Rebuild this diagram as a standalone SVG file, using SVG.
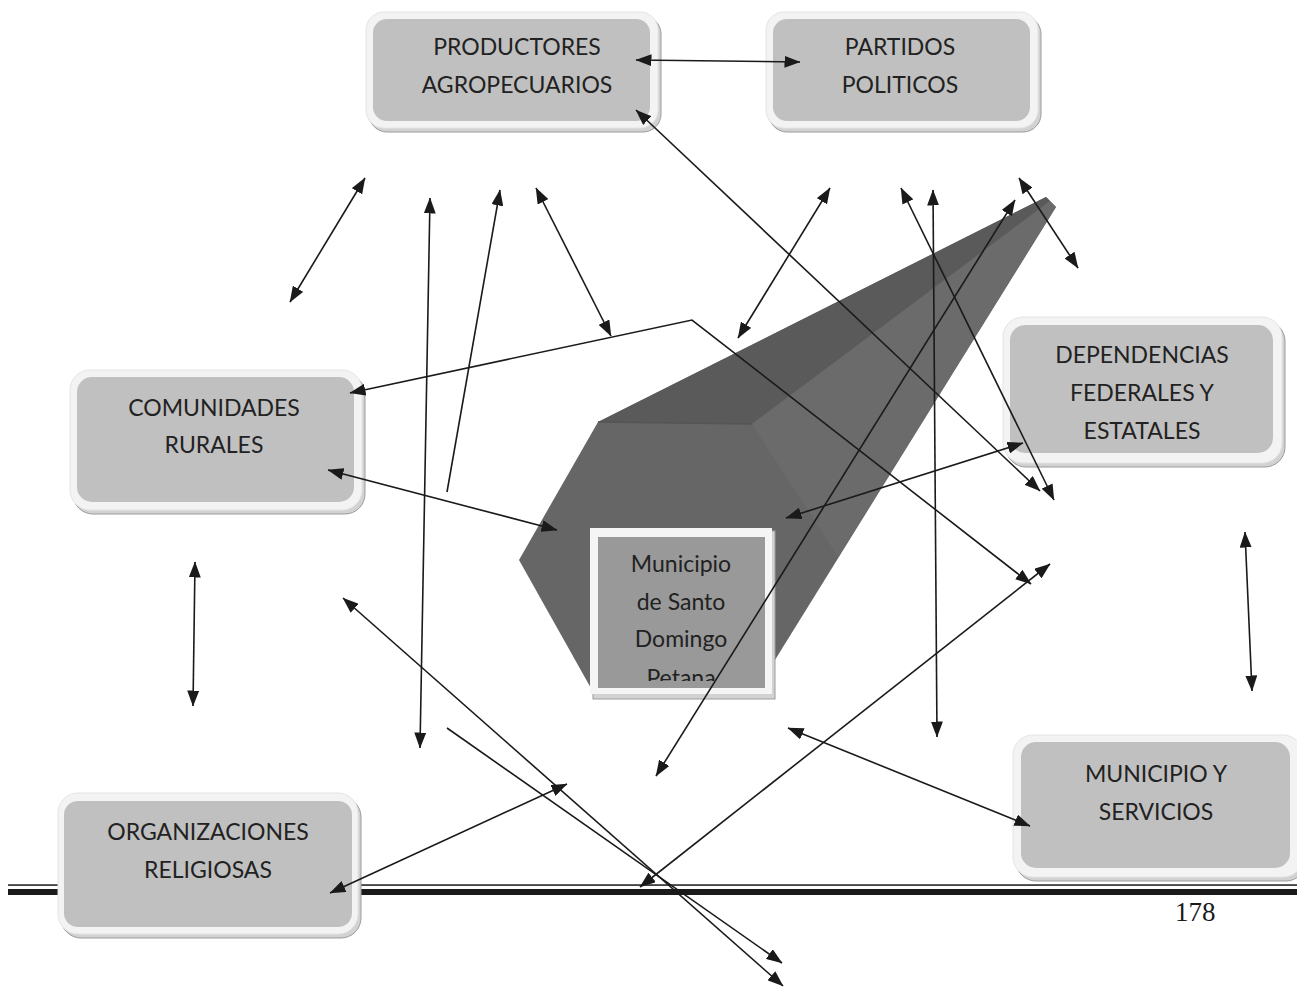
<svg xmlns="http://www.w3.org/2000/svg" width="1297" height="988" viewBox="0 0 1297 988">
<style>
.sh{fill:#d2d2d2;stroke:#9c9c9c;stroke-width:1}
.ou{fill:#f3f3f3;stroke:#e4e4e4;stroke-width:1}
.in{fill:#c0c0c0}
.t{font-family:Lato,"Liberation Sans",sans-serif;font-size:23px;fill:#222222;text-anchor:middle}
.c{fill:none;stroke:#1a1a1a;stroke-width:1.6;marker-end:url(#a)}
.b{marker-start:url(#a)}
</style>
<defs>
<marker id="a" viewBox="0 0 16 12" refX="15.5" refY="6" markerWidth="16" markerHeight="12" markerUnits="userSpaceOnUse" orient="auto-start-reverse">
<path d="M0,0 L16,6 L0,12 z" fill="#1a1a1a"/>
</marker>
<clipPath id="cc"><rect x="598" y="537" width="167" height="144"/></clipPath>
</defs>
<rect width="1297" height="988" fill="#ffffff"/>

<g id="rule">
<rect x="8" y="884.3" width="1289" height="1.5" fill="#1a1a1a"/>
<rect x="8" y="889" width="1289" height="6" fill="#1a1a1a"/>
</g>

<g id="prism">
<polygon points="519,560 598,422 1046,197 1056,207 770,668 592,690" fill="#666666"/>
<polygon points="598,422 1046,197 1050,201 752,424" fill="#5a5a5a"/>
<polygon points="752,424 1050,201 1056,207 838,557" fill="#6b6b6b"/>
<line x1="598" y1="422" x2="752" y2="424" stroke="#555" stroke-width="1.5"/>
</g>

<g id="n-centro">
<rect class="sh" x="593" y="531" width="182" height="168"/>
<rect x="590" y="528" width="182" height="166" fill="#f5f5f5"/>
<rect x="598" y="537" width="167" height="151" fill="#999999"/>
<g clip-path="url(#cc)">
<text class="t" x="681" y="572">Municipio</text>
<text class="t" x="681" y="610">de Santo</text>
<text class="t" x="681" y="647">Domingo</text>
<text class="t" x="681" y="686">Petana</text>
</g>
</g>

<g id="n-productores">
<rect class="sh" x="369" y="16" width="292" height="116" rx="18"/>
<rect class="ou" x="366" y="12" width="292" height="116" rx="18"/>
<rect class="in" x="373" y="19" width="277" height="102" rx="14"/>
<text class="t" x="517" y="55">PRODUCTORES</text>
<text class="t" x="517" y="93">AGROPECUARIOS</text>
</g>

<g id="n-partidos">
<rect class="sh" x="769" y="16" width="272" height="116" rx="18"/>
<rect class="ou" x="766" y="12" width="272" height="116" rx="18"/>
<rect class="in" x="773" y="19" width="257" height="102" rx="14"/>
<text class="t" x="900" y="55">PARTIDOS</text>
<text class="t" x="900" y="93">POLITICOS</text>
</g>

<g id="n-comunidades">
<rect class="sh" x="73" y="374" width="292" height="140" rx="20"/>
<rect class="ou" x="70" y="370" width="292" height="140" rx="20"/>
<rect class="in" x="77" y="377" width="277" height="125" rx="15"/>
<text class="t" x="214" y="416">COMUNIDADES</text>
<text class="t" x="214" y="453">RURALES</text>
</g>

<g id="n-dependencias">
<rect class="sh" x="1006" y="321" width="279" height="146" rx="20"/>
<rect class="ou" x="1003" y="317" width="279" height="146" rx="20"/>
<rect class="in" x="1010" y="325" width="263" height="128" rx="15"/>
<text class="t" x="1142" y="363">DEPENDENCIAS</text>
<text class="t" x="1142" y="401">FEDERALES Y</text>
<text class="t" x="1142" y="439">ESTATALES</text>
</g>

<g id="n-municipio">
<rect class="sh" x="1016" y="739" width="290" height="142" rx="20"/>
<rect class="ou" x="1013" y="735" width="290" height="142" rx="20"/>
<rect class="in" x="1021" y="742" width="269" height="126" rx="15"/>
<text class="t" x="1156" y="782">MUNICIPIO Y</text>
<text class="t" x="1156" y="820">SERVICIOS</text>
</g>

<g id="n-organizaciones">
<rect class="sh" x="61" y="797" width="300" height="141" rx="20"/>
<rect class="ou" x="58" y="793" width="300" height="141" rx="20"/>
<rect class="in" x="64" y="801" width="288" height="126" rx="14"/>
<text class="t" x="208" y="840">ORGANIZACIONES</text>
<text class="t" x="208" y="878">RELIGIOSAS</text>
</g>

<g id="connectors">
<path class="c b" d="M636,60 L800,62"/>
<path class="c b" d="M636,110 L1040,491"/>
<path class="c b" d="M901,188 L1054,500"/>
<path class="c b" d="M365,178 L290,302"/>
<path class="c b" d="M430,198 L420,748"/>
<path class="c" d="M447,492 L500,190"/>
<path class="c b" d="M536,188 L611,336"/>
<path class="c b" d="M350,393 L692,320 L1031,584"/>
<path class="c b" d="M640,887 L1050,564"/>
<path class="c b" d="M830,188 L738,338"/>
<path class="c b" d="M933,190 L937,737"/>
<path class="c b" d="M1015,200 L656,776"/>
<path class="c b" d="M1019,178 L1078,268"/>
<path class="c b" d="M1023,443 L786,518"/>
<path class="c b" d="M328,470 L557,530"/>
<path class="c b" d="M195,562 L193,706"/>
<path class="c b" d="M343,598 L783,986"/>
<path class="c" d="M447,728 L782,963"/>
<path class="c b" d="M330,893 L567,784"/>
<path class="c b" d="M788,728 L1030,826"/>
<path class="c b" d="M1245,532 L1252,691"/>
</g>

<text x="1175" y="921" font-family="'Liberation Serif',serif" font-size="27" fill="#1a1a1a">178</text>
</svg>
